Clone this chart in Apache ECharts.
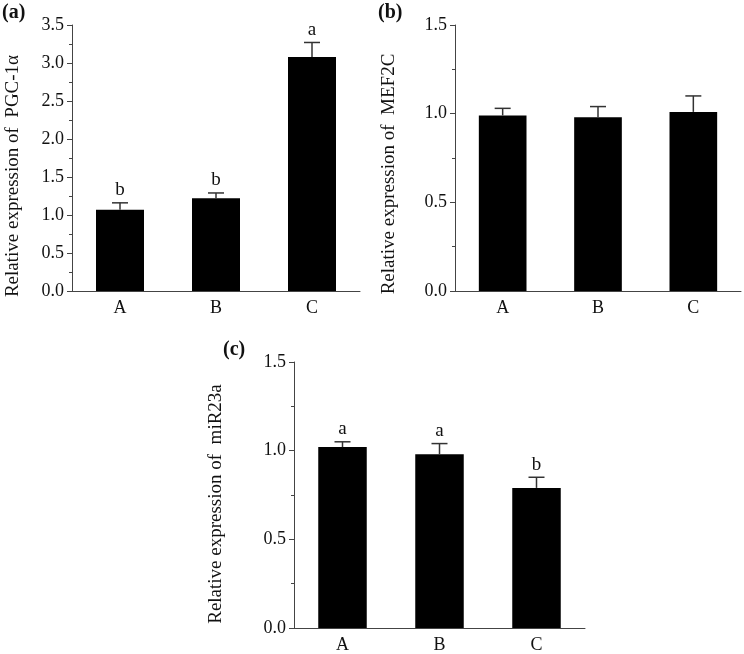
<!DOCTYPE html>
<html>
<head>
<meta charset="utf-8">
<script src="https://cdn.jsdelivr.net/npm/echarts@6/dist/echarts.min.js"></script>
<style>
  html, body { margin: 0; padding: 0; background: #fff; }
  #main { width: 744px; height: 654px; }
</style>
</head>
<body>
<div id="main"></div>
<script>
// data
var categories = ['A', 'B', 'C'];
var pgcMean = [1.07, 1.22, 3.08];
var pgcErr = [0.09, 0.07, 0.19];
var pgcLetters = ['b', 'b', 'a'];
var mefMean = [0.99, 0.98, 1.01];
var mefErr = [0.04, 0.06, 0.09];
var mefLetters = ['', '', ''];
var mirMean = [1.02, 0.98, 0.79];
var mirErr = [0.03, 0.06, 0.06];
var mirLetters = ['a', 'a', 'b'];

var FONT = "'Liberation Serif', 'Times New Roman', serif";
var AXIS_COLOR = '#444';

var chart = echarts.init(document.getElementById('main'));

function xAxisOf(idx) {
  return {
    type: 'category', gridIndex: idx, data: categories,
    axisLine: { lineStyle: { color: AXIS_COLOR, width: 1 } },
    axisTick: { alignWithLabel: true, length: 5, lineStyle: { color: AXIS_COLOR } },
    axisLabel: { fontFamily: FONT, fontSize: 18, color: '#111', margin: 8 }
  };
}
function yAxisOf(idx, max) {
  return {
    type: 'value', gridIndex: idx, min: 0, max: max, interval: 0.5,
    axisLine: { show: true, lineStyle: { color: AXIS_COLOR, width: 1 } },
    axisTick: { show: true, length: 5, lineStyle: { color: AXIS_COLOR } },
    minorTick: { show: true, splitNumber: 2, length: 3, lineStyle: { color: AXIS_COLOR } },
    splitLine: { show: false },
    axisLabel: { fontFamily: FONT, fontSize: 18, color: '#111', margin: 8,
      formatter: function (v) { return v.toFixed(1); } }
  };
}
function barSeries(idx, mean) {
  return {
    type: 'bar', xAxisIndex: idx, yAxisIndex: idx, data: mean,
    barWidth: '50%', itemStyle: { color: '#000' }, z: 2
  };
}
function errSeries(idx, mean, err, letters) {
  var data = mean.map(function (m, i) { return [i, m, m + err[i]]; });
  return {
    type: 'custom', xAxisIndex: idx, yAxisIndex: idx, data: data, z: 3,
    renderItem: function (params, api) {
      var x = api.coord([api.value(0), api.value(1)])[0];
      var y0 = api.coord([api.value(0), api.value(1)])[1];
      var y1 = api.coord([api.value(0), api.value(2)])[1];
      var letter = letters[params.dataIndex];
      var style = { stroke: '#333', lineWidth: 1.5 };
      var children = [
        { type: 'line', shape: { x1: x, y1: y0, x2: x, y2: y1 }, style: style },
        { type: 'line', shape: { x1: x - 8, y1: y1, x2: x + 8, y2: y1 }, style: style }
      ];
      if (letter) {
        children.push({ type: 'text', style: { text: letter, x: x, y: y1 - 3,
          align: 'center', verticalAlign: 'bottom', fontFamily: FONT, fontSize: 19, fill: '#111' } });
      }
      return { type: 'group', children: children };
    }
  };
}
function yName(text, x, y) {
  return { type: 'text', x: x, y: y, rotation: Math.PI / 2,
    style: { text: text, align: 'center', verticalAlign: 'middle', fontFamily: FONT, fontSize: 19, fill: '#111' } };
}
function panelTag(text, x, y) {
  return { type: 'text', x: x, y: y,
    style: { text: text, fontFamily: FONT, fontSize: 20, fontWeight: 'bold', fill: '#111' } };
}

chart.setOption({
  animation: false,
  grid: [
    { left: 72, top: 25, width: 288, height: 266 },
    { left: 455, top: 25, width: 286, height: 266 },
    { left: 294, top: 362, width: 291, height: 266 }
  ],
  xAxis: [xAxisOf(0), xAxisOf(1), xAxisOf(2)],
  yAxis: [yAxisOf(0, 3.5), yAxisOf(1, 1.5), yAxisOf(2, 1.5)],
  series: [
    barSeries(0, pgcMean), errSeries(0, pgcMean, pgcErr, pgcLetters),
    barSeries(1, mefMean), errSeries(1, mefMean, mefErr, mefLetters),
    barSeries(2, mirMean), errSeries(2, mirMean, mirErr, mirLetters)
  ],
  graphic: [
    yName('Relative expression of  PGC-1\u03b1', 13, 176),
    yName('Relative expression of  MEF2C', 389, 174),
    yName('Relative expression of  miR23a', 216, 504),
    panelTag('(a)', 2, 3),
    panelTag('(b)', 378, 3),
    panelTag('(c)', 223, 340)
  ]
});
</script>
</body>
</html>
